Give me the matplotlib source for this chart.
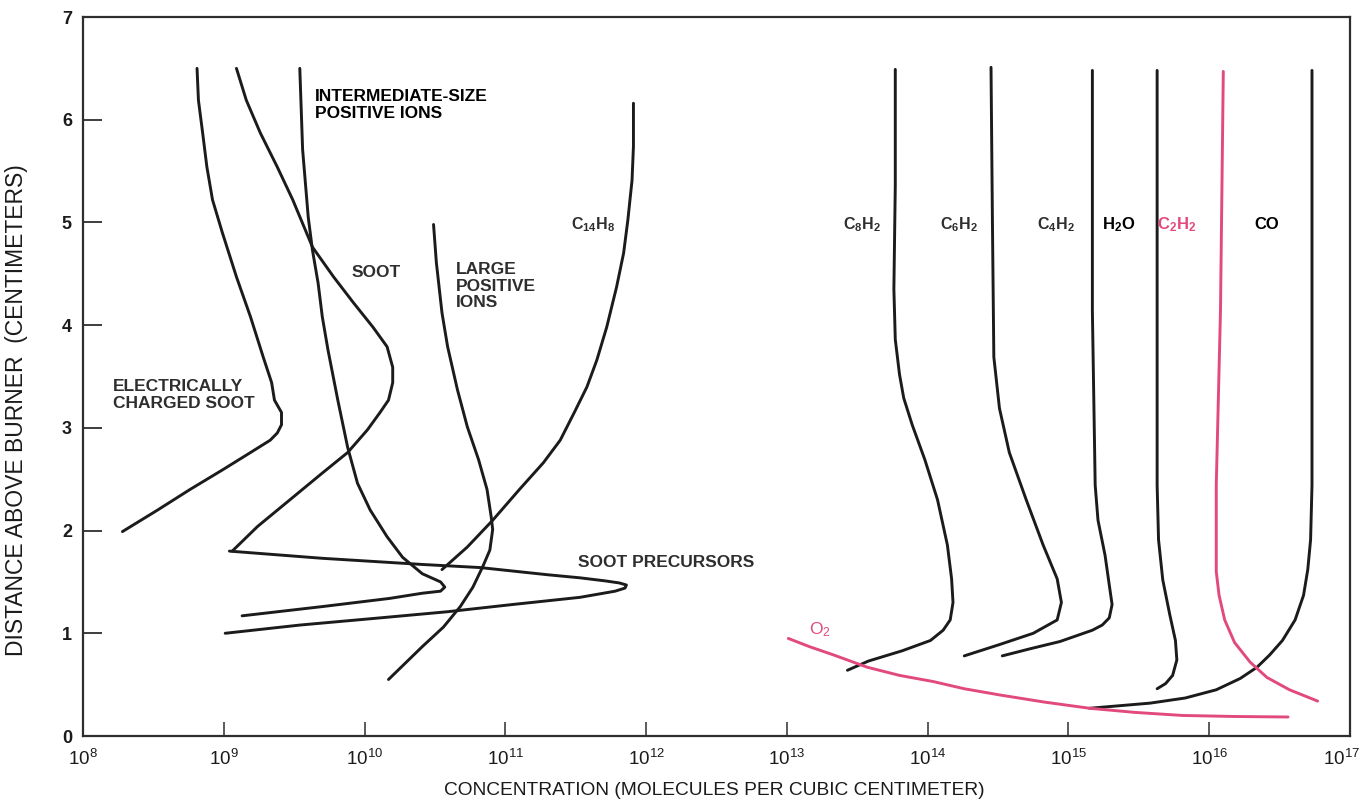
import numpy as np
import matplotlib.pyplot as plt
import matplotlib.transforms as mtransforms

plt.rcParams.update({
    "font.family": "Liberation Sans",
    "mathtext.fontset": "custom",
    "mathtext.rm": "Liberation Sans",
    "mathtext.bf": "Liberation Sans:bold",
    "mathtext.it": "Liberation Sans:italic",
})

INK = "#1b1b1b"
GREY = "#2e2e2e"
PINK = "#e24a7e"

# profiles: log10(concentration, molecules/cm^3) vs height above burner (cm)
ec_soot_lc = [8.81, 8.82, 8.85, 8.88, 8.92, 8.99, 9.09, 9.19, 9.28, 9.34, 9.36, 9.41, 9.41,
              9.38, 9.33, 9.19, 8.99, 8.76, 8.53, 8.28]
ec_soot_h = [6.50, 6.19, 5.87, 5.54, 5.22, 4.90, 4.47, 4.08, 3.69, 3.44, 3.27, 3.15, 3.03,
             2.95, 2.88, 2.76, 2.59, 2.40, 2.20, 1.99]

soot_lc = [9.09, 9.16, 9.26, 9.38, 9.49, 9.63, 9.78, 9.92, 10.06, 10.16, 10.20, 10.20,
           10.17, 10.11, 10.02, 9.88, 9.70, 9.47, 9.24, 9.06]
soot_h = [6.50, 6.19, 5.87, 5.54, 5.22, 4.76, 4.47, 4.22, 3.98, 3.79, 3.59, 3.44,
          3.27, 3.15, 2.98, 2.76, 2.56, 2.30, 2.04, 1.80]

mid_ions_lc = [9.54, 9.56, 9.60, 9.63, 9.67, 9.70, 9.74, 9.81, 9.88, 9.95, 10.04, 10.16,
               10.27, 10.41, 10.54, 10.57, 10.54, 10.41, 10.18, 9.70, 9.13]
mid_ions_h = [6.50, 5.71, 5.05, 4.73, 4.41, 4.08, 3.76, 3.27, 2.81, 2.46, 2.20, 1.94,
              1.74, 1.58, 1.50, 1.45, 1.41, 1.39, 1.34, 1.26, 1.17]

precursor_lc = [9.04, 9.70, 10.41, 10.82, 11.30, 11.53, 11.71, 11.81, 11.86, 11.85, 11.78,
                11.53, 11.05, 10.59, 10.11, 9.54, 9.01]
precursor_h = [1.80, 1.73, 1.67, 1.64, 1.57, 1.54, 1.51, 1.49, 1.47, 1.44, 1.41,
               1.35, 1.28, 1.21, 1.15, 1.08, 1.00]

big_ions_lc = [10.49, 10.51, 10.55, 10.59, 10.66, 10.73, 10.81, 10.87, 10.90, 10.91, 10.89,
               10.84, 10.77, 10.68, 10.56, 10.41, 10.17]
big_ions_h = [4.98, 4.61, 4.12, 3.79, 3.37, 3.01, 2.69, 2.40, 2.13, 2.01, 1.81,
              1.65, 1.45, 1.26, 1.06, 0.87, 0.55]

c14h8_lc = [11.91, 11.91, 11.90, 11.87, 11.84, 11.79, 11.72, 11.65, 11.58, 11.49, 11.39,
            11.27, 11.10, 10.91, 10.73, 10.55]
c14h8_h = [6.16, 5.74, 5.41, 5.02, 4.70, 4.37, 3.98, 3.66, 3.40, 3.15, 2.88,
           2.66, 2.40, 2.10, 1.84, 1.62]

c8h2_lc = [13.77, 13.77, 13.76, 13.77, 13.80, 13.83, 13.89, 13.98, 14.07, 14.14, 14.17,
           14.18, 14.16, 14.11, 14.02, 13.82, 13.58, 13.43]
c8h2_h = [6.49, 5.36, 4.35, 3.86, 3.52, 3.29, 3.03, 2.69, 2.30, 1.86, 1.53,
          1.30, 1.13, 1.03, 0.93, 0.83, 0.73, 0.64]

c6h2_lc = [14.45, 14.46, 14.47, 14.51, 14.58, 14.70, 14.82, 14.92, 14.95, 14.92, 14.75,
           14.51, 14.26]
c6h2_h = [6.51, 5.01, 3.69, 3.19, 2.76, 2.30, 1.86, 1.53, 1.30, 1.13, 1.00,
          0.89, 0.78]

c4h2_lc = [15.17, 15.17, 15.19, 15.21, 15.26, 15.29, 15.31, 15.29, 15.24, 15.17, 14.94,
           14.73, 14.53]
c4h2_h = [6.48, 4.14, 2.44, 2.10, 1.76, 1.47, 1.28, 1.15, 1.08, 1.03, 0.92,
          0.85, 0.78]

h2o_lc = [15.63, 15.63, 15.63, 15.64, 15.67, 15.72, 15.76, 15.77, 15.74, 15.69, 15.63]
h2o_h = [6.48, 4.14, 2.44, 1.91, 1.52, 1.18, 0.93, 0.74, 0.59, 0.51, 0.46]

c2h2_lc = [16.10, 16.08, 16.05, 16.05, 16.07, 16.11, 16.18, 16.29, 16.41, 16.57, 16.77]
c2h2_h = [6.47, 4.14, 2.44, 1.60, 1.37, 1.13, 0.91, 0.72, 0.57, 0.45, 0.34]

co_lc = [16.73, 16.73, 16.73, 16.72, 16.70, 16.67, 16.61, 16.52, 16.43, 16.34, 16.22,
         16.05, 15.83, 15.58, 15.15]
co_h = [6.48, 4.14, 2.44, 1.91, 1.62, 1.37, 1.13, 0.93, 0.79, 0.67, 0.56,
        0.45, 0.37, 0.32, 0.27]

o2_lc = [13.01, 13.16, 13.33, 13.57, 13.80, 14.04, 14.26, 14.51, 14.83, 15.15, 15.47,
         15.81, 16.18, 16.56]
o2_h = [0.95, 0.87, 0.79, 0.67, 0.59, 0.53, 0.46, 0.40, 0.33, 0.27, 0.23,
        0.20, 0.19, 0.185]

decades = list(range(8, 18))
heights = list(range(0, 8))

fig = plt.figure(figsize=(13.65, 8.05), dpi=100)
ax = fig.add_axes([83 / 1365, 1 - 736 / 805, (1350 - 83) / 1365, (736 - 17) / 805])

black_curves = [
    (ec_soot_lc, ec_soot_h), (soot_lc, soot_h), (mid_ions_lc, mid_ions_h),
    (precursor_lc, precursor_h), (big_ions_lc, big_ions_h), (c14h8_lc, c14h8_h),
    (c8h2_lc, c8h2_h), (c6h2_lc, c6h2_h), (c4h2_lc, c4h2_h), (h2o_lc, h2o_h),
    (co_lc, co_h),
]
for lc, h in black_curves:
    ax.plot(10.0 ** np.array(lc), h, color=INK, lw=2.1, solid_capstyle="round",
            solid_joinstyle="round")
for lc, h in [(c2h2_lc, c2h2_h), (o2_lc, o2_h)]:
    ax.plot(10.0 ** np.array(lc), h, color=PINK, lw=2.1, solid_capstyle="round",
            solid_joinstyle="round")

ax.set_xscale("log")
ax.set_xlim(1e8, 1e17)
ax.set_ylim(0, 7)
ax.set_xticks([10.0 ** d for d in decades])
ax.set_xticklabels([r"$10^{%d}$" % d for d in decades], fontsize=13.5)
ax.xaxis.set_minor_locator(plt.NullLocator())
ax.set_yticks(heights)
ax.set_yticklabels([str(v) for v in heights], fontsize=13, fontweight="bold")
ax.tick_params(axis="y", direction="in", length=14, width=1.3, pad=8, colors=GREY)
ax.tick_params(axis="x", direction="in", length=10, width=1.1, pad=9, colors=GREY)
ax.tick_params(labelcolor=INK)
for sp in ax.spines.values():
    sp.set_linewidth(1.6)
    sp.set_color(GREY)

# keep the last decade label inside the figure, as in the original
last = ax.get_xticklabels()[-1]
last.set_horizontalalignment("right")
last.set_transform(last.get_transform() +
                   mtransforms.ScaledTranslation(0.1, 0, fig.dpi_scale_trans))

# curve labels
lab = dict(fontweight="bold", va="center", ha="left")
ax.text(10 ** 9.65, 6.14, "INTERMEDIATE-SIZE\nPOSITIVE IONS", fontsize=12.5, color="black",
        linespacing=1.15, **lab)
ax.text(10 ** 8.213, 3.32, "ELECTRICALLY\nCHARGED SOOT", fontsize=12.5, color=GREY,
        linespacing=1.2, **lab)
ax.text(10 ** 9.91, 4.51, "SOOT", fontsize=12.5, color=GREY, **lab)
ax.text(10 ** 10.65, 4.38, "LARGE\nPOSITIVE\nIONS", fontsize=12.5, color=GREY,
        linespacing=1.15, **lab)
ax.text(10 ** 11.516, 1.69, "SOOT PRECURSORS", fontsize=12.5, color=GREY, **lab)
ax.text(10 ** 11.466, 4.98, r"C$_{\mathbf{14}}$H$_{\mathbf{8}}$", fontsize=11.5, color=GREY, **lab)
ax.text(10 ** 13.40, 4.98, r"C$_{\mathbf{8}}$H$_{\mathbf{2}}$", fontsize=11.5, color=GREY, **lab)
ax.text(10 ** 14.09, 4.98, r"C$_{\mathbf{6}}$H$_{\mathbf{2}}$", fontsize=11.5, color=GREY, **lab)
ax.text(10 ** 14.78, 4.98, r"C$_{\mathbf{4}}$H$_{\mathbf{2}}$", fontsize=11.5, color=GREY, **lab)
ax.text(10 ** 15.24, 4.98, r"H$_{\mathbf{2}}$O", fontsize=12, color="black", **lab)
ax.text(10 ** 15.63, 4.98, r"C$_{\mathbf{2}}$H$_{\mathbf{2}}$", fontsize=12, color=PINK, **lab)
ax.text(10 ** 16.32, 4.98, "CO", fontsize=12, color="black", **lab)
ax.text(10 ** 13.16, 1.04, r"O$_{2}$", fontsize=12.5, color=PINK, va="center", ha="left")

fig.text(714 / 1365, 1 - 790 / 805, "CONCENTRATION (MOLECULES PER CUBIC CENTIMETER)",
         fontsize=13.8, color=INK, ha="center", va="center")
fig.text(17 / 1365, 1 - 410 / 805, "DISTANCE ABOVE BURNER  (CENTIMETERS)",
         fontsize=16.5, color=INK, ha="center", va="center", rotation=90)

fig.savefig("out.png", dpi=100, facecolor="white")
